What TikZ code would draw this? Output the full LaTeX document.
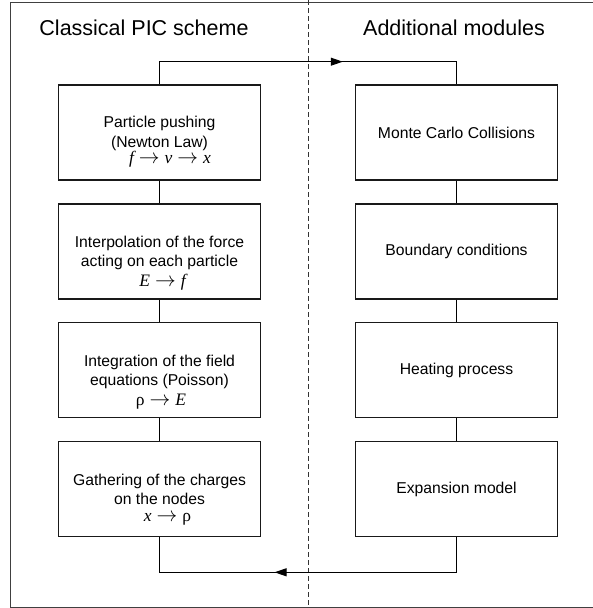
\documentclass[tikz,border=0pt]{standalone}
\usepackage{fontspec}
\setmainfont{Liberation Sans}
\newfontfamily\tms{Liberation Serif}
\usetikzlibrary{arrows.meta,decorations.markings}
\newcommand{\mv}[1]{{\itshape #1}}
\newcommand{\rarr}{\hspace{5pt}{\fontsize{20}{20}\selectfont$\rightarrow$}\hspace{5pt}}
\tikzset{
  frameline/.style={draw=black!75, line width=1pt},
  sepline/.style={draw=black!80, line width=1pt, dash pattern=on 5pt off 3pt},
  stepbox/.style={draw=black!90, line width=1.2pt, minimum width=202.4pt, minimum height=95pt,
    inner sep=0pt, align=center, font=\fontsize{15.7}{18.5}\selectfont},
  boxtext/.style={inner sep=0pt, align=center, font=\fontsize{15.7}{19.3}\selectfont},
  mathtext/.style={inner sep=0pt, font=\tms\fontsize{17.5}{20}\selectfont},
  title/.style={font=\fontsize{21.5}{24}\selectfont, anchor=base},
  conn/.style={draw=black, line width=1pt},
}
\begin{document}
\begin{tikzpicture}[x=1pt,y=-1pt]
\useasboundingbox (0,0) rectangle (593,608);
% frame
\draw[frameline] (600,2) -- (10.5,2) -- (10.5,607) -- (600,607);
% separator
\draw[sepline] (308,0) -- (308,608);
% titles
\node[title] (t1) at (144,35) {Classical PIC scheme};
\node[title] (t2) at (454,35) {Additional modules};
% left boxes
\node[stepbox] (L1) at (159.5,132.5) {};
\node[stepbox] (L2) at (159.5,251.5) {};
\node[stepbox] (L3) at (159.5,370.2) {};
\node[stepbox] (L4) at (159.5,489.2) {};
\node[boxtext] (L1a) at ([yshift=-1pt]L1.center) {Particle pushing\\(Newton Law)};
\node[mathtext] (L1b) at ([xshift=10.5pt,yshift=-26.5pt]L1.center) {\mv{f}\rarr\mv{v}\rarr\mv{x}};
\node[boxtext] (L2a) at ([yshift=-1.5pt]L2.center) {Interpolation of the force\\acting on each particle};
\node[mathtext] (L2b) at ([xshift=3pt,yshift=-30.5pt]L2.center) {\mv{E}\rarr\mv{f}};
\node[boxtext] (L3a) at ([yshift=-2pt]L3.center) {Integration of the field\\equations (Poisson)};
\node[mathtext] (L3b) at ([xshift=1.5pt,yshift=-31.5pt]L3.center) {ρ\rarr\mv{E}};
\node[boxtext] (L4a) at ([yshift=-0.3pt]L4.center) {Gathering of the charges\\on the nodes};
\node[mathtext] (L4b) at ([xshift=8pt,yshift=-30.5pt]L4.center) {\mv{x}\rarr ρ};
% right boxes
\node[stepbox] (R1) at (456.5,132.5) {Monte Carlo Collisions};
\node[stepbox] (R2) at (456.5,251.5) {Boundary conditions};
\node[stepbox] (R3) at (456.5,370.2) {Heating process};
\node[stepbox] (R4) at (456.5,489.2) {Expansion model};
% vertical links
\foreach \a/\b in {L1/L2,L2/L3,L3/L4,R1/R2,R2/R3,R3/R4}
  \draw[conn] (\a.south) -- (\b.north);
% loop connectors
\coordinate (ctop) at (159.5,61.7);
\coordinate (cbot) at (456.5,572.3);
\draw[conn, postaction={decorate}, decoration={markings,
    mark=at position 206pt with {\arrow{Triangle[length=12pt,width=8pt]}}}]
  (L1.north) |- (ctop) -| (R1.north);
\draw[conn, postaction={decorate}, decoration={markings,
    mark=at position 217pt with {\arrow{Triangle[length=12pt,width=8pt]}}}]
  (R4.south) |- (cbot) -| (L4.south);
\end{tikzpicture}
\end{document}
